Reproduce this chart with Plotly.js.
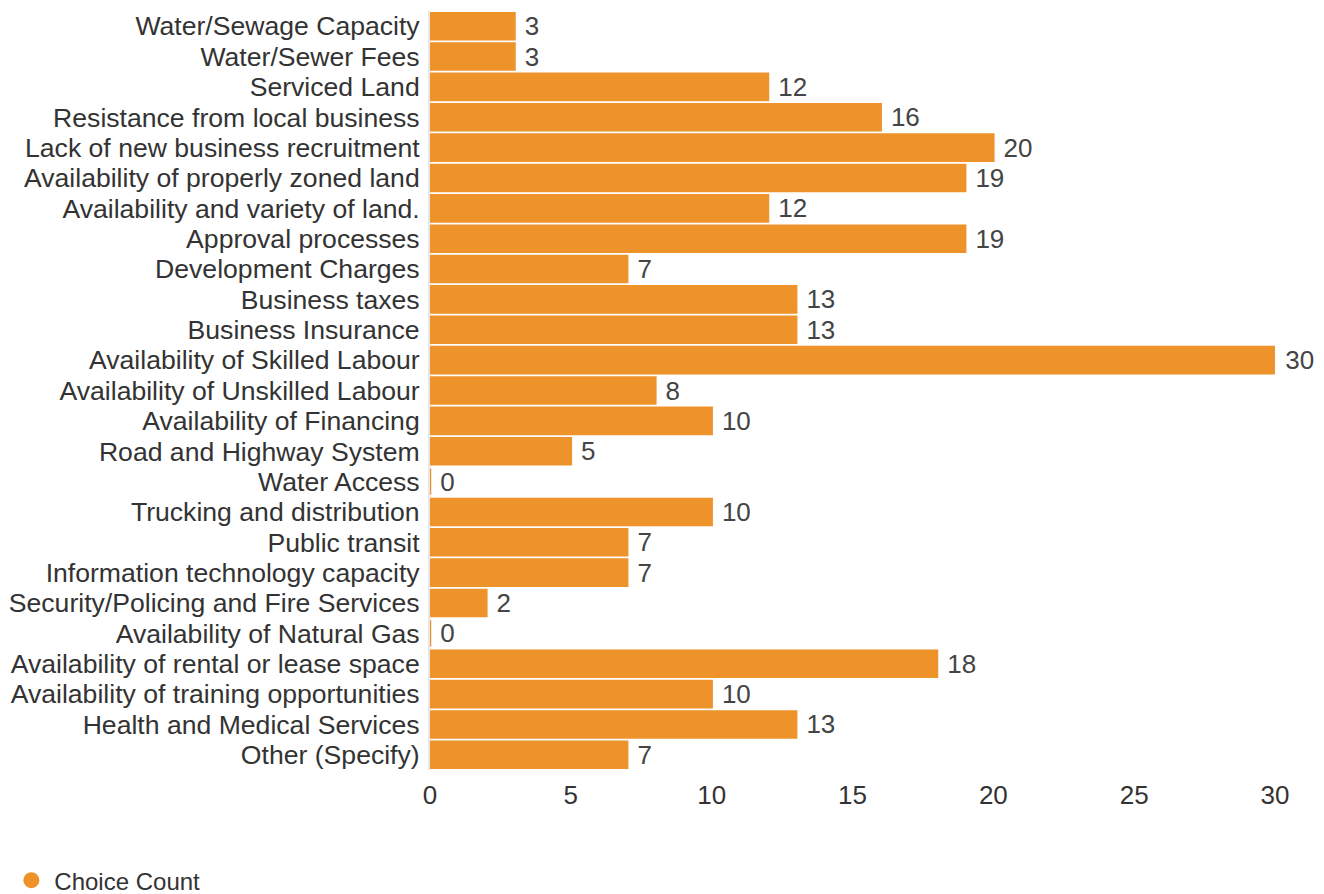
<!DOCTYPE html>
<html>
<head>
<meta charset="utf-8">
<script src="https://cdn.plot.ly/plotly-3.0.1.min.js"></script>
<style>html,body{margin:0;padding:0;background:#fff;}#chart{width:1324px;height:894px;}</style>
</head>
<body>
<div id="chart"></div>
<script>
const categories = [
  "Water/Sewage Capacity",
  "Water/Sewer Fees",
  "Serviced Land",
  "Resistance from local business",
  "Lack of new business recruitment",
  "Availability of properly zoned land",
  "Availability and variety of land.",
  "Approval processes",
  "Development Charges",
  "Business taxes",
  "Business Insurance",
  "Availability of Skilled Labour",
  "Availability of Unskilled Labour",
  "Availability of Financing",
  "Road and Highway System",
  "Water Access",
  "Trucking and distribution",
  "Public transit",
  "Information technology capacity",
  "Security/Policing and Fire Services",
  "Availability of Natural Gas",
  "Availability of rental or lease space",
  "Availability of training opportunities",
  "Health and Medical Services",
  "Other (Specify)"
];
const choiceCount = [3, 3, 12, 16, 20, 19, 12, 19, 7, 13, 13, 30, 8, 10, 5, 0, 10, 7, 7, 2, 0, 18, 10, 13, 7];
const xTicks = [0, 5, 10, 15, 20, 25, 30];
const seriesName = "Choice Count";

const barColor = "#EE922A";
const textColor = "#333333";
const FONT = "Liberation Sans, Arial, sans-serif";

const trace = {
  type: "bar",
  orientation: "h",
  name: seriesName,
  y: categories,
  x: choiceCount,
  marker: {color: barColor, line: {color: barColor, width: 2.5}},
  texttemplate: " %{x}",
  textposition: "outside",
  constraintext: "none",
  cliponaxis: false,
  textfont: {family: FONT, size: 26, color: "#444444"},
  showlegend: false,
  hoverinfo: "x+y"
};

const legendTrace = {
  type: "scatter",
  mode: "markers",
  x: [null], y: [null],
  name: seriesName,
  marker: {color: barColor, size: 21, symbol: "circle"},
  showlegend: true
};

const layout = {
  width: 1324,
  height: 894,
  margin: {l: 430, r: 49, t: 11, b: 124},
  paper_bgcolor: "#ffffff",
  plot_bgcolor: "#ffffff",
  font: {family: FONT, size: 26.6, color: textColor},
  bargap: 0.14,
  showlegend: true,
  legend: {
    orientation: "h",
    xref: "container", yref: "container",
    x: 0.0063, xanchor: "left",
    y: 0.015, yanchor: "middle",
    font: {size: 24, color: textColor},
    itemwidth: 36
  },
  xaxis: {
    range: [0, 30],
    tickvals: xTicks,
    ticktext: xTicks.map(String),
    showgrid: false,
    zeroline: false,
    showline: false,
    ticks: "",
    ticklabelstandoff: 7,
    tickfont: {size: 26, color: textColor},
    automargin: false
  },
  yaxis: {
    autorange: "reversed",
    type: "category",
    tickmode: "array",
    tickvals: categories,
    ticktext: categories,
    showgrid: false,
    zeroline: false,
    showline: true,
    linecolor: "#e6e6e6",
    linewidth: 2,
    ticks: "",
    ticklabelstandoff: 3,
    tickfont: {size: 26.6, color: textColor},
    automargin: false
  }
};

Plotly.newPlot("chart", [trace, legendTrace], layout, {displayModeBar: false, staticPlot: true});
</script>
</body>
</html>
